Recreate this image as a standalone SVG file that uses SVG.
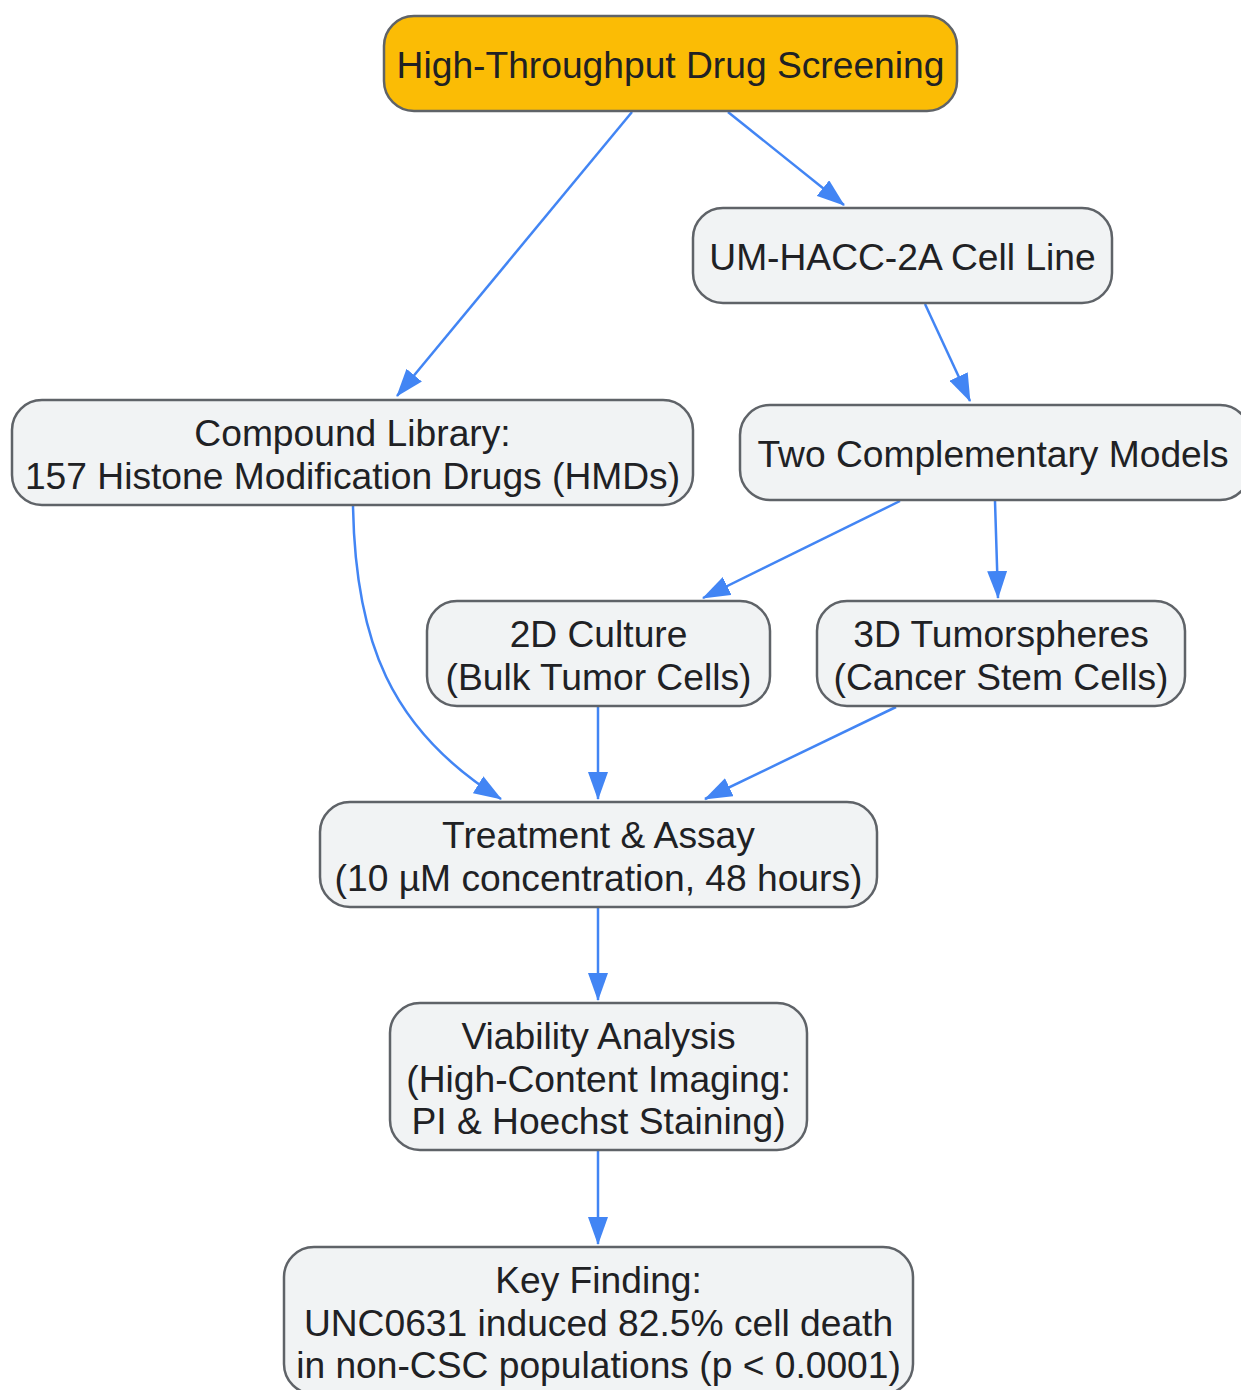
<svg xmlns="http://www.w3.org/2000/svg" width="1241" height="1390" viewBox="0 0 1241 1390">
<defs>
<marker id="arr" viewBox="0 0 28 20" refX="27" refY="10" markerWidth="28" markerHeight="20" markerUnits="userSpaceOnUse" orient="auto">
<path d="M0,0 L28,10 L0,20 z" fill="#4285F4"/>
</marker>
</defs>
<style>
.n rect{fill:#F1F3F4;stroke:#5F6368;stroke-width:2.5}
.n.top rect{fill:#FBBC05}
.n text{font-family:"Liberation Sans",Arial,sans-serif;font-size:37.2px;fill:#202124;text-anchor:middle}
.e path{fill:none;stroke:#4285F4;stroke-width:2.5;marker-end:url(#arr)}
</style>
<rect width="1241" height="1390" fill="#FFFFFF"/>
<g class="e" id="edges">
<path d="M632,112 L397,396"/>
<path d="M728,112 L844,205"/>
<path d="M925,304 L970,401"/>
<path d="M353,505 C355,640 390,730 501,799"/>
<path d="M900,501 L703,598"/>
<path d="M995,501 L998,598"/>
<path d="M598,707 L598,799"/>
<path d="M896,707 L705,799"/>
<path d="M598,908 L598,1000"/>
<path d="M598,1151 L598,1244"/>
</g>
<g class="n top" id="n1">
<rect x="384" y="16" width="573" height="95" rx="30"/>
<text x="670.5" y="78">High-Throughput Drug Screening</text>
</g>
<g class="n" id="n2">
<rect x="693" y="208" width="419" height="95" rx="30"/>
<text x="902.5" y="270">UM-HACC-2A Cell Line</text>
</g>
<g class="n" id="n3">
<rect x="12" y="400" width="681" height="105" rx="30"/>
<text x="352.5" y="446">Compound Library:</text>
<text x="352.5" y="488.5">157 Histone Modification Drugs (HMDs)</text>
</g>
<g class="n" id="n4">
<rect x="740" y="405" width="510" height="95" rx="30"/>
<text x="993" y="467">Two Complementary Models</text>
</g>
<g class="n" id="n5">
<rect x="427" y="601" width="343" height="105" rx="30"/>
<text x="598.5" y="647">2D Culture</text>
<text x="598.5" y="689.5">(Bulk Tumor Cells)</text>
</g>
<g class="n" id="n6">
<rect x="817" y="601" width="368" height="105" rx="30"/>
<text x="1001" y="647">3D Tumorspheres</text>
<text x="1001" y="689.5">(Cancer Stem Cells)</text>
</g>
<g class="n" id="n7">
<rect x="320" y="802" width="557" height="105" rx="30"/>
<text x="598.5" y="848">Treatment &amp; Assay</text>
<text x="598.5" y="890.5">(10 µM concentration, 48 hours)</text>
</g>
<g class="n" id="n8">
<rect x="390" y="1003" width="417" height="147" rx="30"/>
<text x="598.5" y="1049">Viability Analysis</text>
<text x="598.5" y="1091.5">(High-Content Imaging:</text>
<text x="598.5" y="1134">PI &amp; Hoechst Staining)</text>
</g>
<g class="n" id="n9">
<rect x="284" y="1247" width="629" height="147" rx="30"/>
<text x="598.5" y="1293">Key Finding:</text>
<text x="598.5" y="1335.5">UNC0631 induced 82.5% cell death</text>
<text x="598.5" y="1378">in non-CSC populations (p &lt; 0.0001)</text>
</g>
</svg>
